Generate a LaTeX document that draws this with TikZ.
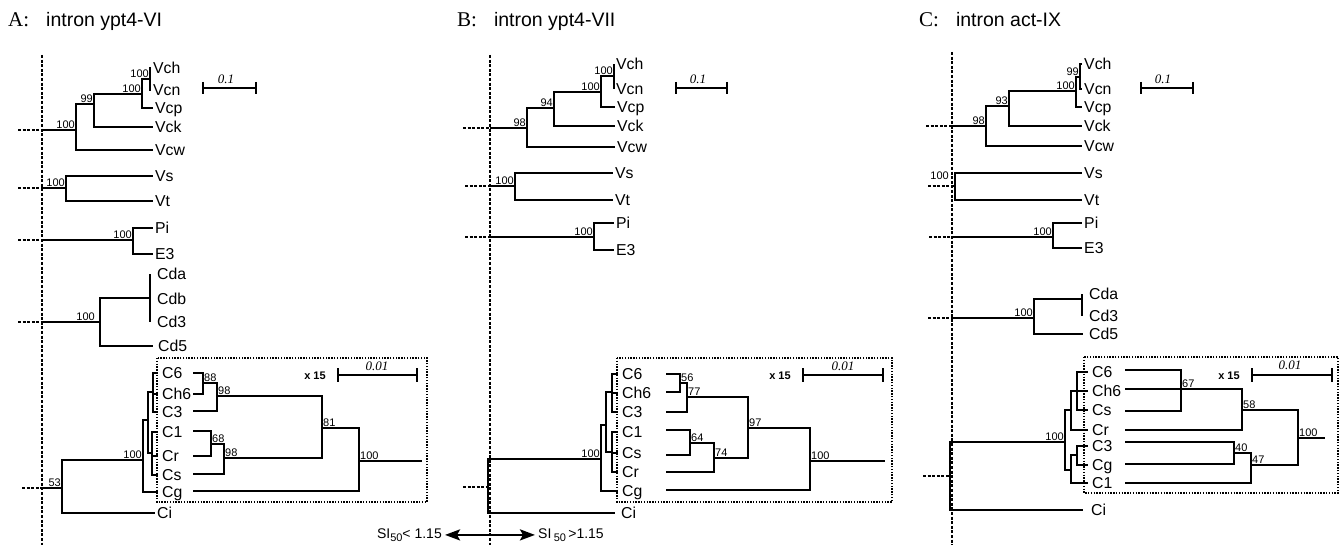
\documentclass[tikz,border=0pt]{standalone}
\usepackage{fontspec}
\setmainfont{Liberation Serif}
\setsansfont{Liberation Sans}
\usetikzlibrary{arrows.meta}
\begin{document}
\begin{tikzpicture}[x=1pt,y=-1pt,
  br/.style={line width=2.4pt},
  dotln/.style={line width=2.6pt, dash pattern=on 3pt off 1.6pt},
  boxln/.style={line width=1.5pt, dash pattern=on 1.4pt off 1.4pt},
  leaf/.style={font=\sffamily\fontsize{15.8}{16}\selectfont, anchor=west, inner sep=2pt, text height=11pt, text depth=0pt},
  cleaf/.style={leaf, inner xsep=4pt},
  sup/.style={font=\sffamily\fontsize{11}{12}\selectfont, inner sep=1pt},
  supl/.style={sup, anchor=south east},
  supr/.style={sup, anchor=south west},
  ttl/.style={anchor=base west, inner sep=0pt},
  scl/.style={font=\rmfamily\itshape\fontsize{13}{14}\selectfont, inner sep=0pt},
  xf/.style={font=\sffamily\bfseries\fontsize{11}{12}\selectfont, inner sep=0pt},
  silab/.style={font=\sffamily\fontsize{14}{15}\selectfont, inner sep=3pt},
  tick/.style={line width=2.4pt}
]
\useasboundingbox (0,0) rectangle (1339,545);

% ================= PANEL A =================
\node[ttl] (A-title) at (8,27) {{\fontsize{21}{22}\selectfont A:}\hspace{17pt}{\sffamily\fontsize{19.5}{22}\selectfont intron ypt4-VI}};
\coordinate (A-top) at (42,55); \coordinate (A-bot) at (42,545);
\draw[dotln] (A-top) -- (A-bot);

% scale bar 0.1
\coordinate (A-sa) at (203,88); \coordinate (A-sb) at (256,88);
\draw[br] (A-sa) -- (A-sb);
\draw[tick] ([yshift=6pt]A-sa) -- ([yshift=-6pt]A-sa);
\draw[tick] ([yshift=6pt]A-sb) -- ([yshift=-6pt]A-sb);
\node[scl] (A-sl) at (226,79) {0.1};

% leaves
\node[leaf] (A-Vch) at (151,68) {Vch};
\node[leaf] (A-Vcn) at (151,90) {Vcn};
\node[leaf] (A-Vcp) at (153,108) {Vcp};
\node[leaf] (A-Vck) at (153,127) {Vck};
\node[leaf] (A-Vcw) at (153,150) {Vcw};
\node[leaf] (A-Vs) at (153,176) {Vs};
\node[leaf] (A-Vt) at (153,201) {Vt};
\node[leaf] (A-Pi) at (153,228) {Pi};
\node[leaf] (A-E3) at (153,254) {E3};
\node[leaf, inner xsep=7pt] (A-Cda) at (150,274) {Cda};
\node[leaf, inner xsep=7pt] (A-Cdb) at (150,299) {Cdb};
\node[leaf, inner xsep=7pt] (A-Cd3) at (150,322) {Cd3};
\node[leaf, inner xsep=5pt] (A-Cd5) at (153,346) {Cd5};
\node[cleaf] (A-C6) at (158,373) {C6};
\node[cleaf] (A-Ch6) at (158,394) {Ch6};
\node[cleaf] (A-C3) at (158,412) {C3};
\node[cleaf] (A-C1) at (158,432) {C1};
\node[cleaf] (A-Cr) at (158,456) {Cr};
\node[cleaf] (A-Cs) at (158,475) {Cs};
\node[cleaf] (A-Cg) at (158,492) {Cg};
\node[leaf] (A-Ci) at (155,513) {Ci};

% internal nodes
\coordinate (A-n1) at (150,79);
\coordinate (A-n2) at (142,94);
\coordinate (A-n3) at (94,104);
\coordinate (A-n4) at (76,130);
\coordinate (A-b4) at (42,130);
\coordinate (A-s4) at (18,130);
\coordinate (A-n5) at (66,188);
\coordinate (A-b5) at (42,188);
\coordinate (A-s5) at (18,188);
\coordinate (A-n6) at (133,240);
\coordinate (A-b6) at (42,240);
\coordinate (A-s6) at (18,240);
\coordinate (A-n7a) at (150,298);
\coordinate (A-n7) at (100,322);
\coordinate (A-b7) at (42,322);
\coordinate (A-s7) at (18,322);
\coordinate (A-m1) at (153,392);
\coordinate (A-m2) at (152,453);
\coordinate (A-m3) at (148,420);
\coordinate (A-m4) at (143,460);
\coordinate (A-n8) at (62,488);
\coordinate (A-b8) at (42,488);
\coordinate (A-s8) at (22,488);

\draw[br] (A-n1) |- (A-Vch.west) (A-n1) |- (A-Vcn.west)
  (A-n2) |- (A-n1) (A-n2) |- (A-Vcp.west)
  (A-n3) |- (A-n2) (A-n3) |- (A-Vck.west)
  (A-n4) |- (A-n3) (A-n4) |- (A-Vcw.west) (A-b4) -- (A-n4)
  (A-n5) |- (A-Vs.west) (A-n5) |- (A-Vt.west) (A-b5) -- (A-n5)
  (A-n6) |- (A-Pi.west) (A-n6) |- (A-E3.west) (A-b6) -- (A-n6)
  (A-n7a) |- (A-Cda.west) (A-n7a) |- (A-Cdb.west) (A-n7a) |- (A-Cd3.west)
  (A-n7) |- (A-n7a) (A-n7) |- (A-Cd5.west) (A-b7) -- (A-n7)
  (A-m1) |- (A-C6.west) (A-m1) |- (A-Ch6.west) (A-m1) |- (A-C3.west)
  (A-m2) |- (A-C1.west) (A-m2) |- (A-Cr.west) (A-m2) |- (A-Cs.west)
  (A-m3) |- (A-m1) (A-m3) |- (A-m2)
  (A-m4) |- (A-m3) (A-m4) |- (A-Cg.west)
  (A-n8) |- (A-m4) (A-n8) |- (A-Ci.west) (A-b8) -- (A-n8);
\draw[dotln] (A-s4) -- (A-b4) (A-s5) -- (A-b5) (A-s6) -- (A-b6) (A-s7) -- (A-b7) (A-s8) -- (A-b8);

\node[supl] (A-l1) at (A-n1) {100};
\node[supl] (A-l2) at (A-n2) {100};
\node[supl] (A-l3) at (A-n3) {99};
\node[supl] (A-l4) at (A-n4) {100};
\node[supl] (A-l5) at (A-n5) {100};
\node[supl] (A-l6) at (A-n6) {100};
\node[supl] (A-l7) at ([xshift=-4pt]A-n7) {100};
\node[supl] (A-l8) at (A-m4) {100};
\node[supl] (A-l9) at (A-n8) {53};

% magnified box A
\coordinate (A-bx1) at (157,358); \coordinate (A-bx2) at (427,502);
\draw[boxln] (A-bx1) rectangle (A-bx2);
\coordinate (A-C6r) at (193,373);
\coordinate (A-Ch6r) at (193,394);
\coordinate (A-C3r) at (193,411);
\coordinate (A-C1r) at (193,431);
\coordinate (A-Crr) at (193,456);
\coordinate (A-Csr) at (193,474);
\coordinate (A-Cgr) at (193,491);
\coordinate (A-q1) at (203,383);
\coordinate (A-q2) at (217,396);
\coordinate (A-q3) at (211,444);
\coordinate (A-q4) at (224,458);
\coordinate (A-q5) at (322,428);
\coordinate (A-q6) at (359,461);
\coordinate (A-qe) at (422,461);
\draw[br] (A-q1) |- (A-C6r) (A-q1) |- (A-Ch6r)
  (A-q2) |- (A-q1) (A-q2) |- (A-C3r)
  (A-q3) |- (A-C1r) (A-q3) |- (A-Crr)
  (A-q4) |- (A-q3) (A-q4) |- (A-Csr)
  (A-q5) |- (A-q2) (A-q5) |- (A-q4)
  (A-q6) |- (A-q5) (A-q6) |- (A-Cgr) (A-q6) -- (A-qe);
\node[supr] (A-k1) at (A-q1) {88};
\node[supr] (A-k2) at (A-q2) {98};
\node[supr] (A-k3) at (A-q3) {68};
\node[supr] (A-k4) at (A-q4) {98};
\node[supr] (A-k5) at (A-q5) {81};
\node[supr] (A-k6) at (A-q6) {100};
\node[xf] (A-x15) at (315,376) {x 15};
\coordinate (A-ta) at (338,375); \coordinate (A-tb) at (417,375);
\draw[br] (A-ta) -- (A-tb);
\draw[tick] ([yshift=7pt]A-ta) -- ([yshift=-7pt]A-ta);
\draw[tick] ([yshift=7pt]A-tb) -- ([yshift=-7pt]A-tb);
\node[scl] (A-tl) at (377,366) {0.01};

% ================= PANEL B =================
\node[ttl] (B-title) at (457,27) {{\fontsize{21}{22}\selectfont B:}\hspace{17pt}{\sffamily\fontsize{19.5}{22}\selectfont intron ypt4-VII}};
\coordinate (B-top) at (490,55); \coordinate (B-bot) at (490,545);
\draw[dotln] (B-top) -- (B-bot);

\coordinate (B-sa) at (676,88); \coordinate (B-sb) at (727,88);
\draw[br] (B-sa) -- (B-sb);
\draw[tick] ([yshift=6pt]B-sa) -- ([yshift=-6pt]B-sa);
\draw[tick] ([yshift=6pt]B-sb) -- ([yshift=-6pt]B-sb);
\node[scl] (B-sl) at (698,79) {0.1};

\node[leaf] (B-Vch) at (614,64) {Vch};
\node[leaf] (B-Vcn) at (614,89) {Vcn};
\node[leaf] (B-Vcp) at (615,107) {Vcp};
\node[leaf] (B-Vck) at (615,126) {Vck};
\node[leaf] (B-Vcw) at (615,147) {Vcw};
\node[leaf] (B-Vs) at (613,173) {Vs};
\node[leaf] (B-Vt) at (613,200) {Vt};
\node[leaf] (B-Pi) at (614,223) {Pi};
\node[leaf] (B-E3) at (614,250) {E3};
\node[cleaf] (B-C6) at (618,374) {C6};
\node[cleaf] (B-Ch6) at (618,393) {Ch6};
\node[cleaf] (B-C3) at (618,412) {C3};
\node[cleaf] (B-C1) at (618,432) {C1};
\node[cleaf] (B-Cs) at (618,453) {Cs};
\node[cleaf] (B-Cr) at (618,472) {Cr};
\node[cleaf] (B-Cg) at (618,491) {Cg};
\node[leaf, inner xsep=6pt] (B-Ci) at (615,513) {Ci};

\coordinate (B-n1) at (614,76);
\coordinate (B-n2) at (601,92);
\coordinate (B-n3) at (554,108);
\coordinate (B-n4) at (527,128);
\coordinate (B-b4) at (490,128);
\coordinate (B-s4) at (463,128);
\coordinate (B-n5) at (515,186);
\coordinate (B-b5) at (490,186);
\coordinate (B-s5) at (465,186);
\coordinate (B-n6) at (594,237);
\coordinate (B-b6) at (490,237);
\coordinate (B-s6) at (465,237);
\coordinate (B-m1) at (612,392);
\coordinate (B-m2) at (612,452);
\coordinate (B-m3) at (606,425);
\coordinate (B-m4) at (601,459);
\coordinate (B-n8) at (488,487);
\coordinate (B-s8) at (463,487);

\draw[br] (B-n1) |- (B-Vch.west) (B-n1) |- (B-Vcn.west)
  (B-n2) |- (B-n1) (B-n2) |- (B-Vcp.west)
  (B-n3) |- (B-n2) (B-n3) |- (B-Vck.west)
  (B-n4) |- (B-n3) (B-n4) |- (B-Vcw.west) (B-b4) -- (B-n4)
  (B-n5) |- (B-Vs.west) (B-n5) |- (B-Vt.west) (B-b5) -- (B-n5)
  (B-n6) |- (B-Pi.west) (B-n6) |- (B-E3.west) (B-b6) -- (B-n6)
  (B-m1) |- (B-C6.west) (B-m1) |- (B-Ch6.west) (B-m1) |- (B-C3.west)
  (B-m2) |- (B-C1.west) (B-m2) |- (B-Cs.west) (B-m2) |- (B-Cr.west)
  (B-m3) |- (B-m1) (B-m3) |- (B-m2)
  (B-m4) |- (B-m3) (B-m4) |- (B-Cg.west)
  (B-n8) |- (B-m4) (B-n8) |- (B-Ci.west);
\draw[dotln] (B-s4) -- (B-b4) (B-s5) -- (B-b5) (B-s6) -- (B-b6) (B-s8) -- (B-n8);

\node[supl] (B-l1) at (B-n1) {100};
\node[supl] (B-l2) at (B-n2) {100};
\node[supl] (B-l3) at (B-n3) {94};
\node[supl] (B-l4) at (B-n4) {98};
\node[supl] (B-l5) at (B-n5) {100};
\node[supl] (B-l6) at (B-n6) {100};
\node[supl] (B-l8) at (B-m4) {100};

\coordinate (B-bx1) at (617,358); \coordinate (B-bx2) at (892,502);
\draw[boxln] (B-bx1) rectangle (B-bx2);
\coordinate (B-C6r) at (666,374);
\coordinate (B-Ch6r) at (666,392);
\coordinate (B-C3r) at (666,412);
\coordinate (B-C1r) at (666,430);
\coordinate (B-Csr) at (666,455);
\coordinate (B-Crr) at (666,472);
\coordinate (B-Cgr) at (666,490);
\coordinate (B-q1) at (680,383);
\coordinate (B-q2) at (687,397);
\coordinate (B-q3) at (690,443);
\coordinate (B-q4) at (714,458);
\coordinate (B-q5) at (748,428);
\coordinate (B-q6) at (810,461);
\coordinate (B-qe) at (885,461);
\draw[br] (B-q1) |- (B-C6r) (B-q1) |- (B-Ch6r)
  (B-q2) |- (B-q1) (B-q2) |- (B-C3r)
  (B-q3) |- (B-C1r) (B-q3) |- (B-Csr)
  (B-q4) |- (B-q3) (B-q4) |- (B-Crr)
  (B-q5) |- (B-q2) (B-q5) |- (B-q4)
  (B-q6) |- (B-q5) (B-q6) |- (B-Cgr) (B-q6) -- (B-qe);
\node[supr] (B-k1) at (B-q1) {56};
\node[supr] (B-k2) at (B-q2) {77};
\node[supr] (B-k3) at (B-q3) {64};
\node[supr] (B-k4) at (B-q4) {74};
\node[supr] (B-k5) at (B-q5) {97};
\node[supr] (B-k6) at (B-q6) {100};
\node[xf] (B-x15) at (780,376) {x 15};
\coordinate (B-ta) at (803,375); \coordinate (B-tb) at (883,375);
\draw[br] (B-ta) -- (B-tb);
\draw[tick] ([yshift=7pt]B-ta) -- ([yshift=-7pt]B-ta);
\draw[tick] ([yshift=7pt]B-tb) -- ([yshift=-7pt]B-tb);
\node[scl] (B-tl) at (843,366) {0.01};

% SI arrow
\node[silab, anchor=base east] (siL) at (445,538) {SI\raisebox{-3.5pt}{\fontsize{11}{11}\selectfont 50}< 1.15};
\node[silab, anchor=base west] (siR) at (535,538) {SI\,\raisebox{-3.5pt}{\fontsize{11}{11}\selectfont 50}\,>1.15};
\draw[line width=2.4pt, {Stealth[length=15pt,width=11pt,inset=3pt]}-{Stealth[length=15pt,width=11pt,inset=3pt]}] (siL.east) -- (siR.west);

% ================= PANEL C =================
\node[ttl] (C-title) at (919,27) {{\fontsize{21}{22}\selectfont C:}\hspace{17pt}{\sffamily\fontsize{19.5}{22}\selectfont intron act-IX}};
\coordinate (C-top) at (952,52); \coordinate (C-bot) at (952,545);
\draw[dotln] (C-top) -- (C-bot);

\coordinate (C-sa) at (1141,88); \coordinate (C-sb) at (1193,88);
\draw[br] (C-sa) -- (C-sb);
\draw[tick] ([yshift=6pt]C-sa) -- ([yshift=-6pt]C-sa);
\draw[tick] ([yshift=6pt]C-sb) -- ([yshift=-6pt]C-sb);
\node[scl] (C-sl) at (1163,79) {0.1};

\node[leaf] (C-Vch) at (1082,64) {Vch};
\node[leaf] (C-Vcn) at (1082,89) {Vcn};
\node[leaf] (C-Vcp) at (1082,107) {Vcp};
\node[leaf] (C-Vck) at (1082,126) {Vck};
\node[leaf] (C-Vcw) at (1082,146) {Vcw};
\node[leaf] (C-Vs) at (1082,173) {Vs};
\node[leaf] (C-Vt) at (1082,200) {Vt};
\node[leaf] (C-Pi) at (1082,223) {Pi};
\node[leaf] (C-E3) at (1082,248) {E3};
\node[leaf, inner xsep=7pt] (C-Cda) at (1082,294) {Cda};
\node[leaf, inner xsep=7pt] (C-Cd3) at (1082,316) {Cd3};
\node[leaf, inner xsep=6pt] (C-Cd5) at (1083,334) {Cd5};
\node[cleaf] (C-C6) at (1088,372) {C6};
\node[cleaf] (C-Ch6) at (1088,391) {Ch6};
\node[cleaf] (C-Cs) at (1088,410) {Cs};
\node[cleaf] (C-Cr) at (1088,430) {Cr};
\node[cleaf] (C-C3) at (1088,446) {C3};
\node[cleaf] (C-Cg) at (1088,465) {Cg};
\node[cleaf] (C-C1) at (1088,483) {C1};
\node[leaf, inner xsep=8pt] (C-Ci) at (1083,510) {Ci};

\coordinate (C-n1) at (1080,77);
\coordinate (C-n2) at (1076,91);
\coordinate (C-n3) at (1009,106);
\coordinate (C-n4) at (986,126);
\coordinate (C-b4) at (952,126);
\coordinate (C-s4) at (926,126);
\coordinate (C-n5) at (955,186);
\coordinate (C-b5) at (952,186);
\coordinate (C-s5) at (928,186);
\coordinate (C-n6) at (1053,237);
\coordinate (C-b6) at (952,237);
\coordinate (C-s6) at (929,237);
\coordinate (C-n7a) at (1082,299);
\coordinate (C-n7) at (1034,318);
\coordinate (C-b7) at (952,318);
\coordinate (C-s7) at (928,318);
\coordinate (C-m1) at (1077,391);
\coordinate (C-m2) at (1071,410);
\coordinate (C-m3) at (1077,455);
\coordinate (C-m4) at (1071,470);
\coordinate (C-m5) at (1065,442);
\coordinate (C-n8) at (950,476);
\coordinate (C-s8) at (923,476);

\draw[br] (C-n1) |- (C-Vch.west) (C-n1) |- (C-Vcn.west)
  (C-n2) |- (C-n1) (C-n2) |- (C-Vcp.west)
  (C-n3) |- (C-n2) (C-n3) |- (C-Vck.west)
  (C-n4) |- (C-n3) (C-n4) |- (C-Vcw.west) (C-b4) -- (C-n4)
  (C-n5) |- (C-Vs.west) (C-n5) |- (C-Vt.west) (C-b5) -- (C-n5)
  (C-n6) |- (C-Pi.west) (C-n6) |- (C-E3.west) (C-b6) -- (C-n6)
  (C-n7a) |- (C-Cda.west) (C-n7a) |- (C-Cd3.west)
  (C-n7) |- (C-n7a) (C-n7) |- (C-Cd5.west) (C-b7) -- (C-n7)
  (C-m1) |- (C-C6.west) (C-m1) |- (C-Ch6.west) (C-m1) |- (C-Cs.west)
  (C-m2) |- (C-m1) (C-m2) |- (C-Cr.west)
  (C-m3) |- (C-C3.west) (C-m3) |- (C-Cg.west)
  (C-m4) |- (C-m3) (C-m4) |- (C-C1.west)
  (C-m5) |- (C-m2) (C-m5) |- (C-m4)
  (C-n8) |- (C-m5) (C-n8) |- (C-Ci.west);
\draw[dotln] (C-s4) -- (C-b4) (C-s5) -- (C-b5) (C-s6) -- (C-b6) (C-s7) -- (C-b7) (C-s8) -- (C-n8);

\node[supl] (C-l1) at (C-n1) {99};
\node[supl] (C-l2) at (C-n2) {100};
\node[supl] (C-l3) at (C-n3) {93};
\node[supl] (C-l4) at (C-n4) {98};
\node[supl] (C-l5) at ([xshift=-2pt,yshift=5pt]C-b5) {100};
\node[supl] (C-l6) at (C-n6) {100};
\node[supl] (C-l7) at (C-n7) {100};
\node[supl] (C-l8) at (C-m5) {100};

\coordinate (C-bx1) at (1084,357); \coordinate (C-bx2) at (1338,493);
\draw[boxln] (C-bx1) rectangle (C-bx2);
\coordinate (C-C6r) at (1125,370);
\coordinate (C-Ch6r) at (1125,389);
\coordinate (C-Csr) at (1125,411);
\coordinate (C-Crr) at (1125,430);
\coordinate (C-C3r) at (1125,442);
\coordinate (C-Cgr) at (1125,464);
\coordinate (C-C1r) at (1125,483);
\coordinate (C-q1) at (1181,389);
\coordinate (C-q2) at (1242,410);
\coordinate (C-q3) at (1234,453);
\coordinate (C-q4) at (1251,465);
\coordinate (C-q5) at (1298,438);
\coordinate (C-qe) at (1325,438);
\draw[br] (C-q1) |- (C-C6r) (C-q1) -- (C-Ch6r) (C-q1) |- (C-Csr)
  (C-q2) |- (C-q1) (C-q2) |- (C-Crr)
  (C-q3) |- (C-C3r) (C-q3) |- (C-Cgr)
  (C-q4) |- (C-q3) (C-q4) |- (C-C1r)
  (C-q5) |- (C-q2) (C-q5) |- (C-q4) (C-q5) -- (C-qe);
\node[supr] (C-k1) at (C-q1) {67};
\node[supr] (C-k2) at (C-q2) {58};
\node[supr] (C-k3) at (C-q3) {40};
\node[supr] (C-k4) at (C-q4) {47};
\node[supr] (C-k5) at (C-q5) {100};
\node[xf] (C-x15) at (1229,376) {x 15};
\coordinate (C-ta) at (1252,375); \coordinate (C-tb) at (1332,375);
\draw[br] (C-ta) -- (C-tb);
\draw[tick] ([yshift=7pt]C-ta) -- ([yshift=-7pt]C-ta);
\draw[tick] ([yshift=7pt]C-tb) -- ([yshift=-7pt]C-tb);
\node[scl] (C-tl) at (1290,365) {0.01};
\end{tikzpicture}
\end{document}
